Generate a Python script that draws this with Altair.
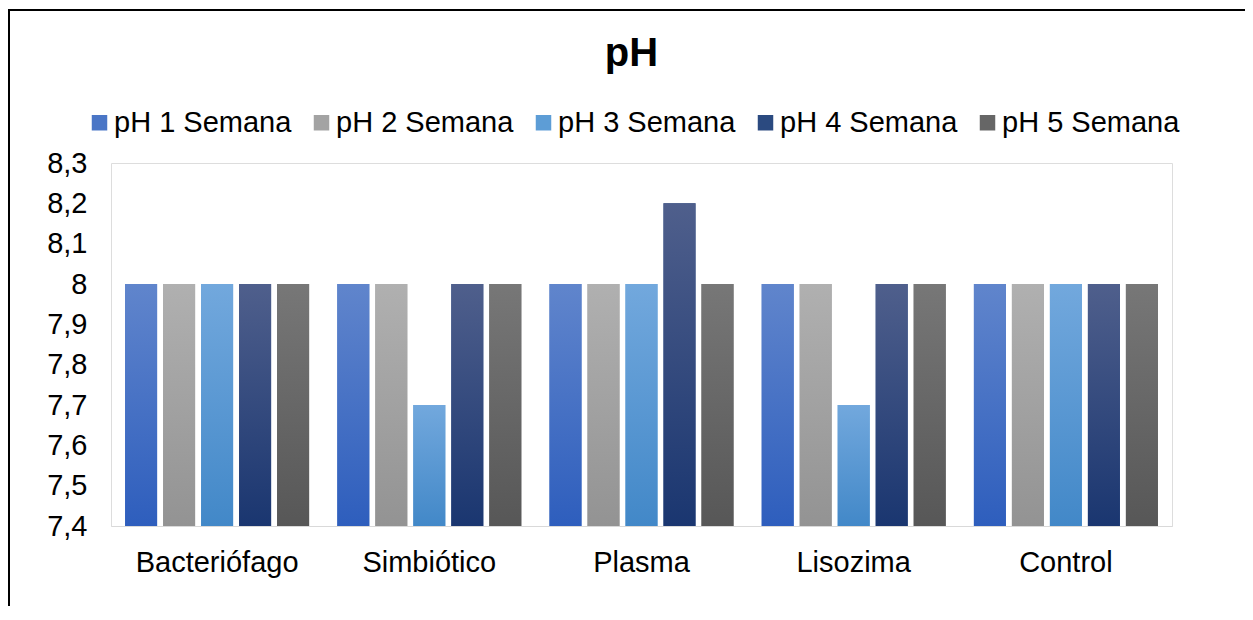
import altair as alt
import pandas as pd

categories = ["Bacteriófago", "Simbiótico", "Plasma", "Lisozima", "Control"]
series_names = ["pH 1 Semana", "pH 2 Semana", "pH 3 Semana", "pH 4 Semana", "pH 5 Semana"]
ph1 = [8.0, 8.0, 8.0, 8.0, 8.0]
ph2 = [8.0, 8.0, 8.0, 8.0, 8.0]
ph3 = [8.0, 7.7, 8.0, 7.7, 8.0]
ph4 = [8.0, 8.0, 8.2, 8.0, 8.0]
ph5 = [8.0, 8.0, 8.0, 8.0, 8.0]
y_ticks = [7.4, 7.5, 7.6, 7.7, 7.8, 7.9, 8.0, 8.1, 8.2, 8.3]

solid = ["#4A76C6", "#A3A3A3", "#5D9DD6", "#2B4A80", "#666666"]
grad_top = ["#6085CC", "#B0B0B0", "#72A8DD", "#4F5F8C", "#777777"]
grad_bottom = ["#2E5EBD", "#939393", "#4288C8", "#1A3670", "#575757"]

FONT = "Liberation Sans"

all_values = [ph1, ph2, ph3, ph4, ph5]
rows = []
for s, vals in zip(series_names, all_values):
    for c, v in zip(categories, vals):
        rows.append({"categoria": c, "serie": s, "valor": v})
df = pd.DataFrame(rows)

x_enc = alt.X(
    "categoria:N",
    sort=categories,
    scale=alt.Scale(paddingInner=0, paddingOuter=0),
    axis=alt.Axis(
        title=None, labelAngle=0, ticks=False, labelFontSize=29, labelFont=FONT,
        labelColor="black", labelPadding=22, domainColor="#D9D9D9", domainWidth=1,
    ),
)
xoff_enc = alt.XOffset(
    "serie:N",
    sort=series_names,
    scale=alt.Scale(domain=series_names, paddingInner=0.158, paddingOuter=0.371),
)
y_enc = alt.Y(
    "valor:Q",
    scale=alt.Scale(domain=[7.4, 8.3], zero=False, nice=False),
    axis=alt.Axis(
        title=None, values=y_ticks, grid=False, ticks=False, domain=False,
        labelExpr="replace(format(datum.value, '.1~f'), '.', ',')",
        labelFontSize=29, labelFont=FONT, labelColor="black", labelPadding=24,
    ),
)
y2_enc = alt.Y2(datum=7.4)

base = alt.Chart(df).mark_bar().encode(
    x=x_enc,
    xOffset=xoff_enc,
    y=y_enc,
    y2=y2_enc,
    color=alt.Color(
        "serie:N",
        sort=series_names,
        scale=alt.Scale(domain=series_names, range=solid),
        legend=alt.Legend(
            title=None, orient="none", legendX=-26, legendY=-55, direction="horizontal",
            labelFontSize=29, labelFont=FONT, labelColor="black", labelLimit=400,
            symbolType="square", symbolSize=240, symbolStrokeWidth=0,
            columnPadding=15, labelOffset=0,
        ),
    ),
)

layers = [base]
for s, top, bottom in zip(series_names, grad_top, grad_bottom):
    grad = alt.LinearGradient(
        gradient="linear",
        stops=[alt.GradientStop(color=top, offset=0), alt.GradientStop(color=bottom, offset=1)],
        x1=0, x2=0, y1=0, y2=1,
    )
    layers.append(
        alt.Chart(df)
        .transform_filter(alt.datum.serie == s)
        .mark_bar(color=grad)
        .encode(x=x_enc, xOffset=xoff_enc, y=y_enc, y2=y2_enc)
    )

frame_df = pd.DataFrame({"k": [0]})
left_border = alt.Chart(frame_df).mark_rule(color="black", strokeWidth=2).encode(
    x=alt.value(-102), y=alt.value(-154), y2=alt.value(450)
)
top_border = alt.Chart(frame_df).mark_rule(color="black", strokeWidth=2).encode(
    x=alt.value(-103), x2=alt.value(1140), y=alt.value(-153)
)
layers += [left_border, top_border]

chart = (
    alt.layer(*layers)
    .properties(
        width=1061,
        height=363,
        padding={"left": 103, "top": 155, "right": 73, "bottom": 80},
        autosize=alt.AutoSizeParams(type="none"),
        title=alt.Title(
            "pH", fontSize=40, fontWeight="bold", font=FONT, color="black",
            anchor="middle", dx=-10, offset=-106, baseline="bottom",
        ),
    )
    .configure_view(fill="#D6DCE5", stroke=None)
    .configure(background="white")
)

chart.save("out.html", embed_options={"renderer": "svg", "actions": False})
